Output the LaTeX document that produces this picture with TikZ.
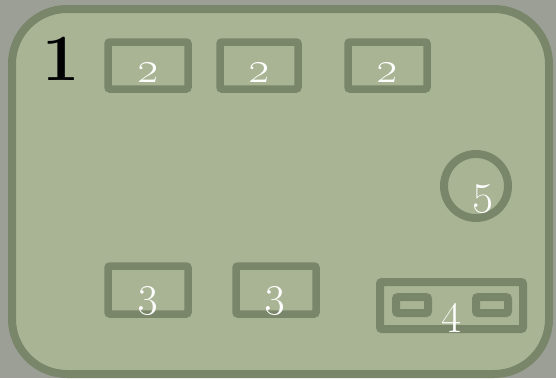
\RequirePackage{fix-cm}
\documentclass[tikz,border=0pt]{standalone}
\definecolor{bgc}{RGB}{156,159,150}
\definecolor{panel}{RGB}{168,180,147}
\definecolor{edge}{RGB}{122,134,106}
\tikzset{
  px/.style={x=1pt,y=-1pt},
  slot/.style={draw=edge,line width=7.5pt,rounded corners=2pt},
  lbl/.style={text=white,anchor=base,inner sep=0pt,font=\fontsize{44}{44}\selectfont\bfseries},
}
\begin{document}
\begin{tikzpicture}[px]
\useasboundingbox (0,0) rectangle (556,378);
\fill[bgc] (0,0) rectangle (556,378);
\draw[edge,fill=panel,line width=8pt,rounded corners=55pt] (12,9) rectangle (549,374);
\node[anchor=base,inner sep=0pt,font=\fontsize{66}{66}\selectfont\bfseries] (one) at (61.5,80) {1};
\draw[slot] (108,42) rectangle (188,89);
\draw[slot] (220,42) rectangle (298,89);
\draw[slot] (348,42) rectangle (427,89);
\node[lbl] (t2a) at (147.5,82) {\oldstylenums{2}};
\node[lbl] (t2b) at (259,82) {\oldstylenums{2}};
\node[lbl] (t2c) at (387,82) {\oldstylenums{2}};
\draw[slot] (108,266) rectangle (188,314);
\draw[slot] (236,266) rectangle (316,314);
\node[lbl] (t3a) at (147.5,306) {\oldstylenums{3}};
\node[lbl] (t3b) at (275,306) {\oldstylenums{3}};
\draw[slot,line width=8pt] (380,282) rectangle (523,329);
\draw[slot,line width=8pt] (396,297) rectangle (428,313);
\draw[slot,line width=8pt] (476,297) rectangle (508,313);
\node[lbl] (t4) at (452,323) {\oldstylenums{4}};
\draw[edge,line width=8pt] (476,186) circle (32);
\node[lbl] (t5) at (483,204) {\oldstylenums{5}};
\end{tikzpicture}
\end{document}
